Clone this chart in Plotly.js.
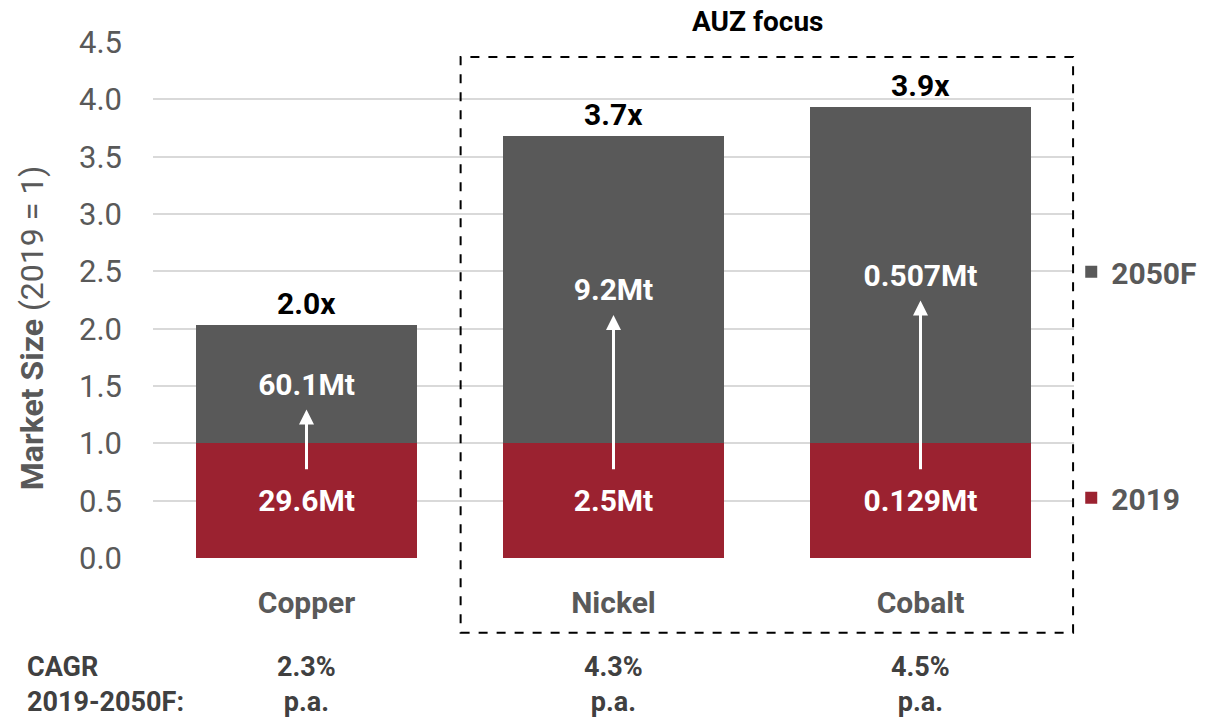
<!DOCTYPE html>
<html>
<head>
<meta charset="utf-8">
<script src="https://cdn.plot.ly/plotly-3.0.1.min.js"></script>
<style>
  html, body { margin: 0; padding: 0; background: #fff; }
  #myDiv { width: 1228px; height: 717px; }
</style>
</head>
<body>
<div id="myDiv"></div>
<script>
var metals = ["Copper", "Nickel", "Cobalt"];
var base2019 = [1, 1, 1];
var growth2050 = [1.03, 2.68, 2.93];      // added on top of 2019 = 1
var volume2019 = ["29.6Mt", "2.5Mt", "0.129Mt"];
var volume2050 = ["60.1Mt", "9.2Mt", "0.507Mt"];
var multiples = ["2.0x", "3.7x", "3.9x"];
var cagr = ["2.3%", "4.3%", "4.5%"];

var red = "rgb(155,34,48)";
var grey = "rgb(89,89,89)";
var font = "Roboto, 'Open Sans', sans-serif";

var bars2019 = {
    x: metals,
    y: base2019,
    type: "bar",
    name: "<b>2019</b>",
    legendgroup: "a",
    legendrank: 2,
    marker: { color: red },
    text: volume2019,
    textposition: "inside",
    insidetextanchor: "middle",
    textfont: { family: font, size: 30, color: "white", weight: "bold" },
    hoverinfo: "skip"
};

var bars2050 = {
    x: metals,
    y: growth2050,
    type: "bar",
    name: "<b>2050F</b>",
    legendgroup: "b",
    legendrank: 1,
    marker: { color: grey },
    text: volume2050,
    textposition: "inside",
    insidetextanchor: "middle",
    textfont: { family: font, size: 30, color: "white", weight: "bold" },
    hoverinfo: "skip"
};

var annotations = [];
metals.forEach(function(m, i) {
    var total = base2019[i] + growth2050[i];
    // multiple above the bar
    annotations.push({
        x: m, y: total, xref: "x", yref: "y",
        text: "<b>" + multiples[i] + "</b>",
        showarrow: false, yanchor: "bottom", yshift: 2,
        font: { family: font, size: 30, color: "black" }
    });
    // growth arrow between the two labels
    annotations.push({
        x: m, y: (base2019[i] + total) / 2 - 0.22, xref: "x", yref: "y",
        ax: m, ay: 0.76, axref: "x", ayref: "y",
        text: "", showarrow: true,
        arrowhead: 2, arrowsize: 1, arrowwidth: 3, arrowcolor: "white"
    });
    // CAGR row
    annotations.push({
        x: m, y: -0.245, xref: "x", yref: "paper",
        text: "<b>" + cagr[i] + "<br>p.a.</b>",
        showarrow: false, yanchor: "middle",
        font: { family: font, size: 27, color: "rgb(64,64,64)" }
    });
});

annotations.push({
    x: -0.139, y: -0.245, xref: "paper", yref: "paper",
    text: "<b>CAGR<br>2019-2050F:</b>",
    showarrow: false, xanchor: "left", align: "left", yanchor: "middle",
    font: { family: font, size: 27, color: "rgb(64,64,64)" }
});
annotations.push({
    x: 1.47, y: 1.039, xref: "x", yref: "paper",
    text: "<b>AUZ focus</b>",
    showarrow: false, yanchor: "middle",
    font: { family: font, size: 28, color: "black" }
});
annotations.push({
    x: -0.131, y: 0.446, xref: "paper", yref: "paper",
    text: "<b>Market Size</b> (2019 = 1)",
    textangle: -90, showarrow: false,
    xanchor: "center", yanchor: "middle",
    font: { family: font, size: 32, color: grey }
});

var layout = {
    width: 1228,
    height: 717,
    barmode: "stack",
    bargap: 0.283,
    paper_bgcolor: "white",
    plot_bgcolor: "white",
    margin: { l: 153, r: 154, t: 42, b: 159 },
    font: { family: font, color: grey },
    xaxis: {
        showgrid: false,
        showline: false,
        zeroline: false,
        ticks: "",
        ticklabelstandoff: 24,
        tickfont: { family: font, size: 30, color: grey, weight: "bold" }
    },
    yaxis: {
        range: [0, 4.5],
        dtick: 0.5,
        tickformat: ".1f",
        showgrid: true,
        gridcolor: "rgb(217,217,217)",
        gridwidth: 2,
        zeroline: false,
        showline: false,
        ticks: "",
        ticklabelstandoff: 30,
        tickfont: { family: font, size: 31, color: grey }
    },
    showlegend: true,
    legend: {
        x: 0.997, xanchor: "left",
        y: 0.605, yanchor: "top",
        traceorder: "grouped",
        tracegroupgap: 184,
        bgcolor: "rgba(0,0,0,0)",
        itemclick: false,
        font: { family: font, size: 30, color: grey }
    },
    shapes: [{
        type: "rect",
        xref: "paper", yref: "paper",
        x0: 0.334, x1: 0.999, y0: -0.145, y1: 0.971,
        line: { color: "black", width: 2, dash: "dash" },
        fillcolor: "rgba(0,0,0,0)"
    }],
    annotations: annotations
};

Plotly.newPlot("myDiv", [bars2019, bars2050], layout, { displayModeBar: false, staticPlot: true });
</script>
</body>
</html>
